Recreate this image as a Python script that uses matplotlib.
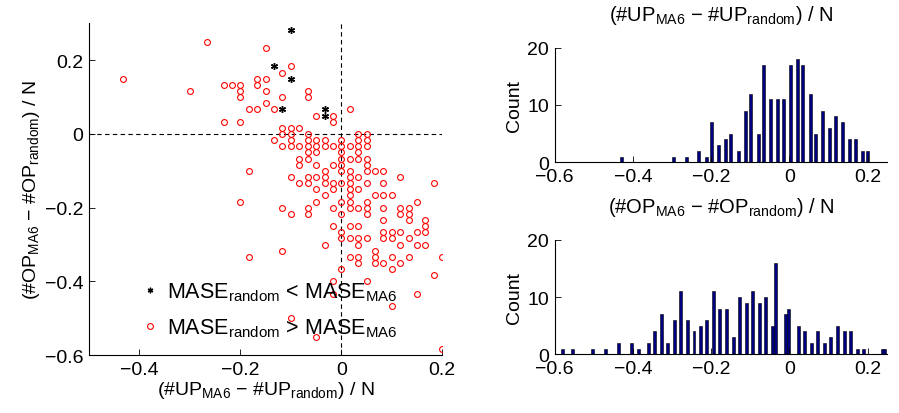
import numpy as np
import matplotlib
matplotlib.use("Agg")
import matplotlib.pyplot as plt
from matplotlib.lines import Line2D

plt.rcParams['font.family'] = ['Liberation Sans', 'DejaVu Sans']
plt.rcParams['mathtext.fontset'] = 'custom'
plt.rcParams['mathtext.rm'] = 'Liberation Sans'
plt.rcParams['font.size'] = 14

N = 60  # number of forecasts, values are count differences / N

# points where MASE_random > MASE_MA6 (red circles), count differences
red_up = [-16, -9, -6, -7, -26, -10, -9, -14, -13, -12, -10, -18, -12, -9, -4,
          -12, -7, -4, -9, -11, -10, -8, 1, -3, -1, -14, -12, -1, -7, -6, -5,
          -7, -6, -4, 2, 3,
          -8, -6, -4, -3, -2, 0, 2, 3,
          -7, -6, -5, -4, -3, -2, -1, 0, 1, 2, 3,
          -4, -3, 0, 2,
          -5, -4, 0, 1, 2, 3,
          -5, -3, -1, 0, 3,
          -11, -2, 0, 1, 3, 4, 5,
          -6, -4, -3, -2, 1, 2, 7,
          -5, -4, -2, -1, 0, 1, 3, 5, 11,
          -3, -1, 1, 2,
          -2, 1, 4, 5, 6,
          -12, -3, 0, 1, 3, 9,
          -7, -4, -1, 1, 2, 3, 5, 7, 8,
          -6, -4, 0, 3, 7, 8,
          5, 8, 10,
          -1, 1, 2, 10,
          0, 5, 6, 7, 9, 10,
          0, 1, 2, 3, 5, 6, 8,
          -2, 2, 7, 9, 10,
          -7, 4,
          -11, 1, 2, 4, 6, 8, 12,
          2, 4, 5, 7,
          0, 6,
          11,
          -1, 3,
          -1, 9,
          6, -6, -3, 12]
red_op = [15, 14, 11, 10, 9, 9, 9, 8, 8, 8, 8, 7, 7, 7, 7,
          6, 6, 6, 5, 4, 4, 4, 4, 3, 3, 2, 2, 2, 1, 1, 1,
          0, 0, 0, 0, 0,
          -1, -1, -1, -1, -1, -1, -1, -1,
          -2, -2, -2, -2, -2, -2, -2, -2, -2, -2, -2,
          -3, -3, -3, -3,
          -4, -4, -4, -4, -4, -4,
          -5, -5, -5, -5, -5,
          -6, -6, -6, -6, -6, -6, -6,
          -7, -7, -7, -7, -7, -7, -7,
          -8, -8, -8, -8, -8, -8, -8, -8, -8,
          -9, -9, -9, -9,
          -10, -10, -10, -10, -10,
          -11, -11, -11, -11, -11, -11,
          -12, -12, -12, -12, -12, -12, -12, -12, -12,
          -13, -13, -13, -13, -13, -13,
          -14, -14, -14,
          -15, -15, -15, -15,
          -16, -16, -16, -16, -16, -16,
          -17, -17, -17, -17, -17, -17, -17,
          -18, -18, -18, -18, -18,
          -19, -19,
          -20, -20, -20, -20, -20, -20, -20,
          -21, -21, -21, -21,
          -22, -22,
          -23,
          -24, -24,
          -26, -26,
          -28, -30, -33, -35]

# points where MASE_random < MASE_MA6 (black asterisks)
blk_up = [-6, -8, -6, -7, -2, -2]
blk_op = [17, 11, 9, 4, 4, 3]

# histogram of UP difference: bin centres and counts
up_bins = [-0.429, -0.296, -0.264, -0.232, -0.213, -0.200, -0.182, -0.163, -0.150,
           -0.131, -0.112, -0.099, -0.080, -0.067, -0.048, -0.030, -0.016, 0.003,
           0.021, 0.034, 0.053, 0.066, 0.085, 0.103, 0.117, 0.135, 0.154, 0.168,
           0.186, 0.199]
up_counts = [1, 1, 1, 2, 1, 7, 3, 4, 5, 2, 9, 12, 5, 17, 11, 11, 11, 17, 18, 17,
             12, 5, 9, 6, 8, 7, 4, 4, 2, 2]

# histogram of OP difference
op_bins = [-0.579, -0.554, -0.503, -0.470, -0.437, -0.404, -0.386, -0.361, -0.344,
           -0.328, -0.311, -0.294, -0.278, -0.261, -0.244, -0.228, -0.211, -0.195,
           -0.178, -0.161, -0.144, -0.128, -0.110, -0.094, -0.077, -0.061, -0.044,
           -0.036, -0.011, -0.003, 0.022, 0.039, 0.056, 0.072, 0.089, 0.106, 0.122,
           0.140, 0.156, 0.173, 0.190, 0.237, 0.244]
op_counts = [1, 1, 1, 1, 2, 2, 1, 2, 4, 7, 2, 6, 11, 6, 4, 5, 6, 11, 8, 8, 3, 10,
             9, 11, 9, 10, 5, 16, 7, 8, 5, 4, 2, 4, 2, 3, 5, 4, 4, 1, 1, 1, 1]

lbl_up = r'(#UP$_{\rm MA6}$ $-$ #UP$_{\rm random}$) / N'
lbl_op = r'(#OP$_{\rm MA6}$ $-$ #OP$_{\rm random}$) / N'

fig = plt.figure(figsize=(8.99, 4.14), dpi=100)

# scatter
ax = fig.add_axes([0.099, 0.140, 0.393, 0.801])
ax.axhline(0, color='k', ls='--', lw=0.8, dashes=(4, 3))
ax.axvline(0, color='k', ls='--', lw=0.8, dashes=(4, 3))
ax.plot(np.array(blk_up) / N, np.array(blk_op) / N, ls='none', marker=(6, 2, 0),
        color='k', ms=5, mew=1.0)
ax.plot(np.array(red_up) / N, np.array(red_op) / N, ls='none', marker='o',
        mfc='none', mec='r', ms=4.2, mew=0.8)
ax.set_xlim(-0.5, 0.2)
ax.set_ylim(-0.6, 0.3)
ax.set_xticks([-0.4, -0.2, 0, 0.2])
ax.set_yticks([-0.6, -0.4, -0.2, 0, 0.2])
ax.set_xticklabels(['\u22120.4', '\u22120.2', '0', '0.2'])
ax.set_yticklabels(['\u22120.6', '\u22120.4', '\u22120.2', '0', '0.2'])
ax.set_xlabel(lbl_up, labelpad=1)
ax.set_ylabel(lbl_op, labelpad=2)

handles = [Line2D([], [], ls='none', marker=(6, 2, 0), color='k', ms=4, mew=1.0),
           Line2D([], [], ls='none', marker='o', mfc='none', mec='r', ms=4.2, mew=0.8)]
ax.legend(handles, [r'MASE$_{\rm random}$ < MASE$_{\rm MA6}$',
                    r'MASE$_{\rm random}$ > MASE$_{\rm MA6}$'],
          loc='lower left', bbox_to_anchor=(0.08, -0.01), frameon=False,
          handletextpad=0.2, handlelength=1.2, labelspacing=0.6, fontsize=15.5)

# histograms
hax1 = fig.add_axes([0.617, 0.6056, 0.370, 0.2768])
hax2 = fig.add_axes([0.617, 0.1418, 0.370, 0.2761])
for h, b, c, t in [(hax1, up_bins, up_counts, lbl_up), (hax2, op_bins, op_counts, lbl_op)]:
    h.bar(b, c, width=0.0075, color='#000080', edgecolor='k', linewidth=0.4)
    h.set_xlim(-0.6, 0.25)
    h.set_ylim(0, 20)
    h.set_xticks([-0.6, -0.4, -0.2, 0, 0.2])
    h.set_xticklabels(['\u22120.6', '\u22120.4', '\u22120.2', '0', '0.2'])
    h.set_yticks([0, 10, 20])
    h.set_ylabel('Count', labelpad=3)
    h.set_title(t, fontsize=14.5, pad=20)

for a in [ax, hax1, hax2]:
    for s in ['top', 'right']:
        a.spines[s].set_visible(False)
    a.tick_params(direction='in', length=4, width=0.6, pad=4)
    a.spines['left'].set_linewidth(0.8)
    a.spines['bottom'].set_linewidth(0.8)

fig.savefig('out.png', dpi=100)
